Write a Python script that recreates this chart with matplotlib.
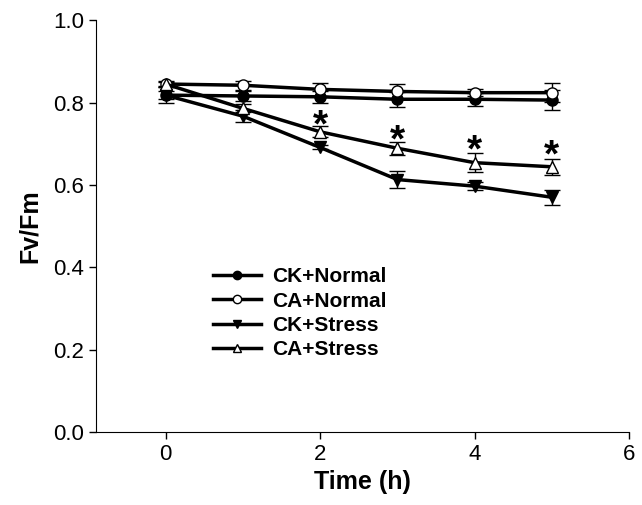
import numpy as np
import matplotlib.pyplot as plt
from matplotlib.lines import Line2D

plt.rcParams['font.family'] = ['Liberation Sans', 'DejaVu Sans']

# Time points (h)
time = [0, 1, 2, 3, 4, 5]

# Fv/Fm means and standard errors
ck_normal = [0.818, 0.816, 0.814, 0.808, 0.808, 0.806]
ck_normal_err = [0.019, 0.012, 0.014, 0.018, 0.016, 0.025]
ca_normal = [0.845, 0.842, 0.832, 0.827, 0.824, 0.824]
ca_normal_err = [0.008, 0.011, 0.015, 0.019, 0.008, 0.023]
ck_stress = [0.818, 0.767, 0.691, 0.613, 0.597, 0.570]
ck_stress_err = [0.010, 0.015, 0.005, 0.020, 0.010, 0.018]
ca_stress = [0.845, 0.786, 0.729, 0.689, 0.654, 0.644]
ca_stress_err = [0.006, 0.010, 0.013, 0.016, 0.023, 0.019]

# significance marks
star_x = [2, 3, 4, 5]
star_y = [0.756, 0.720, 0.696, 0.682]

fig = plt.figure(figsize=(6.42, 5.05), dpi=100)
ax = fig.add_axes([0.1495, 0.1446, 0.8305, 0.8154])

series = [
    ('CK+Normal', ck_normal, ck_normal_err, 'o', 'black'),
    ('CA+Normal', ca_normal, ca_normal_err, 'o', 'white'),
    ('CK+Stress', ck_stress, ck_stress_err, 'v', 'black'),
    ('CA+Stress', ca_stress, ca_stress_err, '^', 'white'),
]
handles = []
for label, y, err, m, fc in series:
    ax.errorbar(time, y, yerr=err, color='black', lw=2.5, marker=m,
                markersize=8, markerfacecolor=fc, markeredgecolor='black',
                markeredgewidth=1, ecolor='black', elinewidth=1, capsize=6,
                capthick=1)
    handles.append(Line2D([], [], color='black', lw=2.5, marker=m,
                          markersize=6, markerfacecolor=fc,
                          markeredgecolor='black', markeredgewidth=1,
                          label=label))

# star glyph sits high in its box, so shift down a little
for x, y in zip(star_x, star_y):
    ax.text(x, y - 0.014, '*', ha='center', va='center', fontsize=28,
            fontweight='bold')

ax.set_xlim(-0.9, 6)
ax.set_ylim(0, 1.0)
ax.set_xticks([0, 2, 4, 6])
ax.set_yticks([0.0, 0.2, 0.4, 0.6, 0.8, 1.0])
ax.set_yticklabels(['0.0', '0.2', '0.4', '0.6', '0.8', '1.0'])
ax.tick_params(labelsize=16, length=5, width=1)
ax.spines['top'].set_visible(False)
ax.spines['right'].set_visible(False)
ax.set_xlabel('Time (h)', fontsize=18, fontweight='bold', labelpad=4)
ax.set_ylabel('Fv/Fm', fontsize=18, fontweight='bold', labelpad=8)

leg = ax.legend(handles=handles, loc='upper left',
                bbox_to_anchor=(0.185, 0.445), frameon=False,
                fontsize=15, handlelength=2.3, handletextpad=0.5,
                labelspacing=0.25)
for t in leg.get_texts():
    t.set_fontweight('bold')

plt.savefig('out.png', dpi=100)
